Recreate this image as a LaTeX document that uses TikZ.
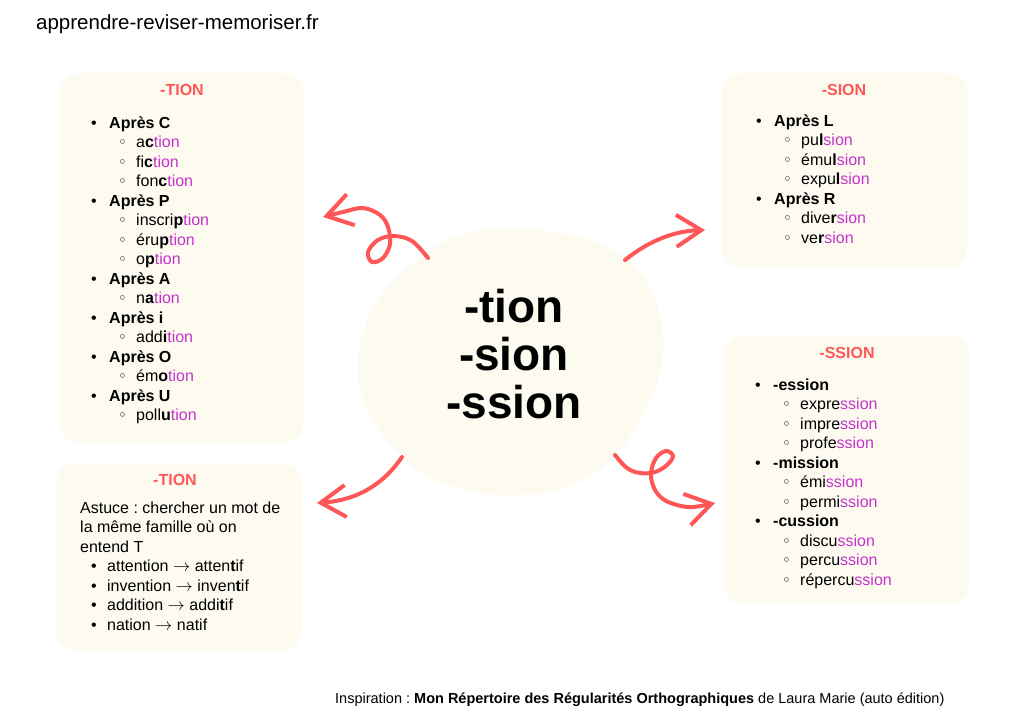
\documentclass[tikz,border=0pt]{standalone}
\usepackage{fontspec}
\setmainfont{Liberation Sans}
\newfontfamily\dejavu{DejaVu Sans}
\usetikzlibrary{arrows.meta}
\frenchspacing
\definecolor{cream}{RGB}{253,251,240}
\definecolor{tred}{RGB}{255,87,87}
\definecolor{purp}{RGB}{196,50,206}
\newcommand\pb[1]{\textcolor{purp}{#1}}
\newcommand\bu{\makebox[18pt][l]{•}}
\newcommand\sbu{\hspace*{27pt}\makebox[18pt][l]{\fontsize{15}{15}\selectfont\dejavu ◦}}
\newcommand\tbu{\hspace*{11pt}\makebox[16pt][l]{•}}
\newcommand\ra{$\rightarrow$}
\tikzset{
  panel/.style={fill=cream, rounded corners=18pt, inner sep=0pt, anchor=north west},
  title/.style={text=tred, font=\fontsize{16}{19.5}\selectfont\bfseries, anchor=base, inner sep=0pt},
  listtext/.style={font=\fontsize{16}{19.5}\selectfont, align=left, anchor=north west, inner sep=0pt},
  curvy/.style={draw=tred, line width=4pt, line cap=round, line join=round,
    -{Straight Barb[length=25pt,width=32pt]}}
}
\begin{document}
\begin{tikzpicture}[x=1pt,y=-1pt]
\fill[white] (0,0) rectangle (1024,724);
\useasboundingbox (0,0) rectangle (1024,724);

% header and footer
\node[anchor=base west, inner sep=0pt, font=\fontsize{20.5}{24}\selectfont] (head) at (36,29) {apprendre-reviser-memoriser.fr};
\node[anchor=base west, inner sep=0pt, font=\fontsize{14.5}{17}\selectfont] (foot) at (335,703) {Inspiration : \textbf{Mon Répertoire des Régularités Orthographiques} de Laura Marie (auto édition)};

% panels
\node[panel, minimum width=243pt, minimum height=369pt] (box1) at (60,73) {};
\node[panel, minimum width=245pt, minimum height=187pt] (box2) at (56,463) {};
\node[panel, minimum width=245pt, minimum height=194pt] (box3) at (722,73) {};
\node[panel, minimum width=245pt, minimum height=269pt] (box4) at (724,335) {};

% central blob
\path[fill=cream] plot[smooth cycle, tension=0.7] coordinates {
 (513,229) (580,237) (627,260) (653,293) (663,347) (650,400) (617,453)
 (567,487) (513,495) (467,490) (423,473) (387,440) (365,407) (358,370)
 (364,330) (385,290) (428,252) (467,233)};
\node[align=center, anchor=north, inner sep=0pt, font=\fontsize{46}{48}\selectfont\bfseries] (center) at (514,288.4) {\strut -tion\\-sion\\-ssion};

% titles
\node[title] (t1) at (182,95) {-TION};
\node[title] (t2) at (175,485) {-TION};
\node[title] (t3) at (844,95) {-SION};
\node[title] (t4) at (847,358) {-SSION};

% lists
\node[listtext] (l1) at (91,114.35) {\strut\bu\textbf{Après C}\\
\sbu a\textbf{c}\pb{tion}\\
\sbu fi\textbf{c}\pb{tion}\\
\sbu fon\textbf{c}\pb{tion}\\
\bu\textbf{Après P}\\
\sbu inscri\textbf{p}\pb{tion}\\
\sbu éru\textbf{p}\pb{tion}\\
\sbu o\textbf{p}\pb{tion}\\
\bu\textbf{Après A}\\
\sbu n\textbf{a}\pb{tion}\\
\bu\textbf{Après i}\\
\sbu add\textbf{i}\pb{tion}\\
\bu\textbf{Après O}\\
\sbu ém\textbf{o}\pb{tion}\\
\bu\textbf{Après U}\\
\sbu poll\textbf{u}\pb{tion}};

\node[listtext] (l2) at (80,499.35) {\strut Astuce : chercher un mot de\\
la même famille où on\\
entend T\\
\tbu attention \ra{} atten\textbf{t}if\\
\tbu invention \ra{} inven\textbf{t}if\\
\tbu addition \ra{} addi\textbf{t}if\\
\tbu nation \ra{} natif};

\node[listtext] (l3) at (756,112.35) {\strut\bu\textbf{Après L}\\
\sbu pu\textbf{l}\pb{sion}\\
\sbu ému\textbf{l}\pb{sion}\\
\sbu expu\textbf{l}\pb{sion}\\
\bu\textbf{Après R}\\
\sbu dive\textbf{r}\pb{sion}\\
\sbu ve\textbf{r}\pb{sion}};

\node[listtext] (l4) at (755,376.35) {\strut\bu\textbf{-ession}\\
\sbu expre\pb{ssion}\\
\sbu impre\pb{ssion}\\
\sbu profe\pb{ssion}\\
\bu\textbf{-mission}\\
\sbu émi\pb{ssion}\\
\sbu permi\pb{ssion}\\
\bu\textbf{-cussion}\\
\sbu discu\pb{ssion}\\
\sbu percu\pb{ssion}\\
\sbu répercu\pb{ssion}};

% arrows
\coordinate (a1s) at (428,258);
\coordinate (a1e) at (323,217);
\coordinate (a2s) at (625,260);
\coordinate (a2e) at (705,230);
\coordinate (a3s) at (402,457);
\coordinate (a3e) at (317,503);
\coordinate (a4s) at (615,455);
\coordinate (a4e) at (715,503);

\draw[curvy] plot[smooth, tension=0.6] coordinates {(a1s) (412,241) (394,236) (378,240) (368,252) (372,262) (383,258) (390,244) (388,227) (380,215) (363,208) (343,212) (a1e)};
\draw[curvy] (a2s) .. controls (645,244) and (670,231) .. (a2e);
\draw[curvy] (a3s) .. controls (385,482) and (360,500) .. (a3e);
\draw[curvy] plot[smooth, tension=0.6] coordinates {(a4s) (627,468) (640,473) (655,472) (667,465) (673,456) (666,451) (656,458) (651,473) (654,488) (663,499) (677,505) (693,507) (a4e)};
\end{tikzpicture}
\end{document}
